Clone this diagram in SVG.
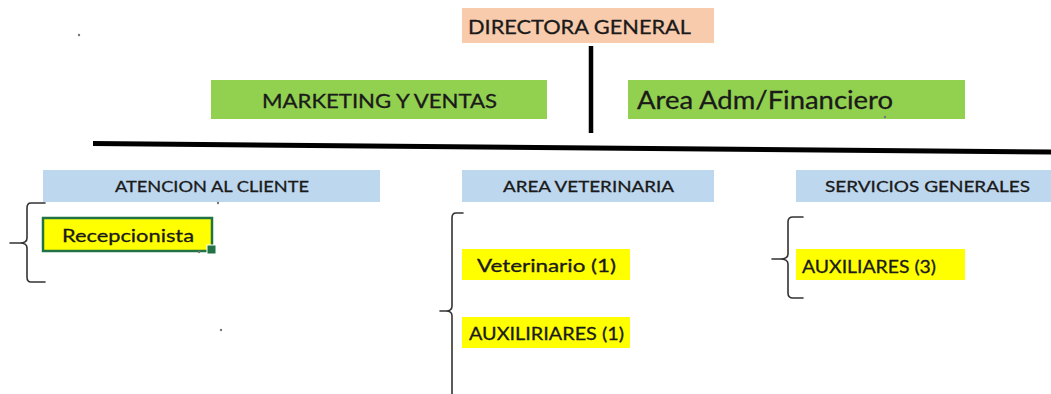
<svg xmlns="http://www.w3.org/2000/svg" width="1051" height="394" viewBox="0 0 1051 394">
<style>
.t{font-family:Lato,"Liberation Sans",sans-serif;fill:#1a1a1a;stroke:#1a1a1a;stroke-width:0.3;}
.peach{fill:#F8CBAD;}
.green{fill:#92D050;}
.blue{fill:#BDD7EE;}
.yel{fill:#FFFF00;}
.br{fill:none;stroke:#333;stroke-width:1.6;stroke-linejoin:round;stroke-linecap:round;}
.dot{fill:#777;}
</style>
<rect width="1051" height="394" fill="#fff"/>
<g id="connectors">
<line x1="591" y1="46" x2="591" y2="133" stroke="#000" stroke-width="4.5"/>
<path d="M93 143.5 L1051 152" stroke="#000" stroke-width="5" fill="none"/>
<path class="br" d="M45 203 L31 203 Q27 203 27 208 L27 238 Q27 243 20 243 L10 243 M20 243 Q27 243 27 248 L27 277 Q27 282 31 282 L45 282"/>
<path class="br" d="M463 213 L456 213 Q452 213 452 218 L452 306 Q452 311 446 311 L440 311 M446 311 Q452 311 452 316 L452 394"/>
<path class="br" d="M803 217 L793 217 Q788 217 788 222 L788 254 Q788 259 780 259 L772 259 M780 259 Q788 259 788 264 L788 293 Q788 298 793 298 L803 298"/>
</g>
<g id="directora">
<rect class="peach" x="462" y="8" width="252" height="35"/>
<text class="t" x="468" y="34" font-size="19.5" textLength="223" lengthAdjust="spacingAndGlyphs">DIRECTORA GENERAL</text>
</g>
<g id="marketing">
<rect class="green" x="211" y="80" width="336" height="39"/>
<text class="t" x="262" y="108" font-size="18.5" textLength="235" lengthAdjust="spacingAndGlyphs">MARKETING Y VENTAS</text>
</g>
<g id="adm">
<rect class="green" x="628" y="80" width="337" height="39"/>
<text class="t" x="637" y="109" font-size="25" textLength="256" lengthAdjust="spacingAndGlyphs">Area Adm/Financiero</text>
</g>
<g id="atencion">
<rect class="blue" x="43" y="170" width="337" height="32"/>
<text class="t" x="115" y="192" font-size="15.5" textLength="194" lengthAdjust="spacingAndGlyphs">ATENCION AL CLIENTE</text>
</g>
<g id="veterinaria">
<rect class="blue" x="462" y="170" width="252" height="32"/>
<text class="t" x="503" y="192" font-size="15.5" textLength="171" lengthAdjust="spacingAndGlyphs">AREA VETERINARIA</text>
</g>
<g id="servicios">
<rect class="blue" x="796" y="170" width="255" height="32"/>
<text class="t" x="825" y="192" font-size="15.5" textLength="205" lengthAdjust="spacingAndGlyphs">SERVICIOS GENERALES</text>
</g>
<g id="recepcionista">
<rect class="yel" x="43" y="218" width="169" height="33" stroke="#217346" stroke-width="2.5"/>
<rect x="207" y="245" width="9" height="9" fill="#217346" stroke="#fff" stroke-width="1"/>
<text class="t" x="62" y="242" font-size="18" textLength="132" lengthAdjust="spacingAndGlyphs">Recepcionista</text>
</g>
<g id="veterinario">
<rect class="yel" x="462" y="249" width="168" height="31"/>
<text class="t" x="477" y="272" font-size="17" textLength="139" lengthAdjust="spacingAndGlyphs">Veterinario (1)</text>
</g>
<g id="auxiliriares">
<rect class="yel" x="462" y="317" width="168" height="31"/>
<text class="t" x="469" y="340" font-size="17" textLength="155" lengthAdjust="spacingAndGlyphs">AUXILIRIARES (1)</text>
</g>
<g id="auxiliares">
<rect class="yel" x="796" y="249" width="169" height="31"/>
<text class="t" x="802" y="273" font-size="17" textLength="134" lengthAdjust="spacingAndGlyphs">AUXILIARES (3)</text>
</g>
<g id="dots">
<circle class="dot" cx="79" cy="35" r="1.2"/>
<circle class="dot" cx="218" cy="203" r="1.2"/>
<circle class="dot" cx="221" cy="330" r="1.2"/>
<circle class="dot" cx="885" cy="117" r="1.2"/>
<circle class="dot" cx="199" cy="252" r="1.2"/>
</g>
</svg>
